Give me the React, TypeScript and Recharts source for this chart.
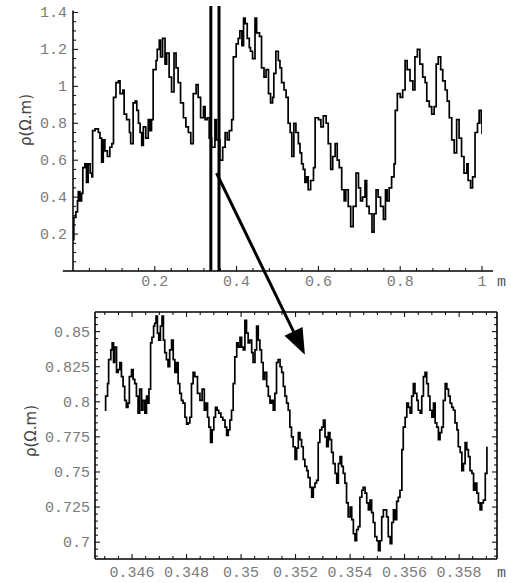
import React from 'react'
import { LineChart, Line, XAxis, YAxis, ReferenceLine } from 'recharts'

// full profile, x in m, rho in ohm.m
const topTrace: [number, number][] = [
  [0, 0.17], [0.002, 0.29], [0.007, 0.32], [0.011, 0.38], [0.013, 0.43], [0.017, 0.38], [0.021, 0.42],
  [0.024, 0.56], [0.029, 0.58], [0.033, 0.48], [0.037, 0.58], [0.042, 0.53], [0.046, 0.51], [0.048, 0.76],
  [0.054, 0.77], [0.062, 0.75], [0.066, 0.72], [0.07, 0.59], [0.074, 0.71], [0.078, 0.65], [0.084, 0.62],
  [0.09, 0.67], [0.095, 0.69], [0.099, 0.94], [0.105, 1.02], [0.111, 1.03], [0.115, 0.96], [0.122, 0.98],
  [0.125, 0.85], [0.131, 0.82], [0.138, 0.75], [0.141, 0.69], [0.147, 0.91], [0.152, 0.92], [0.156, 0.87],
  [0.16, 0.8], [0.164, 0.75], [0.168, 0.68], [0.172, 0.78], [0.178, 0.72], [0.184, 0.82], [0.188, 0.76],
  [0.192, 0.82], [0.196, 1.09], [0.203, 1.14], [0.206, 1.2], [0.211, 1.25], [0.214, 1.16], [0.219, 1.26],
  [0.225, 1.12], [0.229, 1.18], [0.235, 1.05], [0.241, 0.97], [0.247, 1.18], [0.252, 1.1], [0.257, 1.02],
  [0.263, 0.91], [0.27, 0.83], [0.276, 0.78], [0.282, 0.75], [0.288, 0.69], [0.294, 0.96], [0.301, 1.01],
  [0.306, 0.94], [0.312, 0.83], [0.319, 0.89], [0.323, 0.82], [0.328, 0.83], [0.333, 0.72], [0.339, 0.67],
  [0.347, 0.82], [0.351, 0.71], [0.359, 0.6], [0.366, 0.67], [0.372, 0.75], [0.377, 0.71], [0.382, 0.76],
  [0.388, 0.82], [0.392, 1.16], [0.399, 1.23], [0.404, 1.26], [0.408, 1.3], [0.413, 1.22], [0.417, 1.37],
  [0.421, 1.34], [0.426, 1.26], [0.431, 1.21], [0.434, 1.19], [0.439, 1.15], [0.445, 1.37], [0.449, 1.29],
  [0.456, 1.27], [0.461, 1.1], [0.467, 1.05], [0.472, 1.09], [0.478, 0.96], [0.483, 0.91], [0.488, 0.94],
  [0.491, 1.07], [0.496, 1.19], [0.502, 1.14], [0.506, 1.1], [0.51, 1.02], [0.516, 0.98], [0.521, 0.94],
  [0.526, 0.8], [0.531, 0.75], [0.535, 0.62], [0.54, 0.8], [0.545, 0.75], [0.551, 0.69], [0.555, 0.64],
  [0.559, 0.58], [0.563, 0.55], [0.567, 0.48], [0.571, 0.51], [0.575, 0.44], [0.581, 0.49], [0.588, 0.56],
  [0.592, 0.83], [0.6, 0.82], [0.606, 0.78], [0.612, 0.84], [0.619, 0.8], [0.624, 0.69], [0.63, 0.55],
  [0.635, 0.62], [0.641, 0.69], [0.646, 0.6], [0.651, 0.56], [0.657, 0.44], [0.663, 0.38], [0.667, 0.44],
  [0.673, 0.35], [0.679, 0.24], [0.685, 0.35], [0.692, 0.53], [0.698, 0.45], [0.703, 0.38], [0.708, 0.4],
  [0.714, 0.49], [0.718, 0.35], [0.724, 0.31], [0.731, 0.21], [0.736, 0.31], [0.741, 0.44], [0.746, 0.4],
  [0.752, 0.35], [0.759, 0.28], [0.764, 0.44], [0.768, 0.38], [0.773, 0.45], [0.779, 0.51], [0.785, 0.58],
  [0.788, 0.87], [0.793, 0.96], [0.8, 0.94], [0.806, 0.98], [0.812, 1.14], [0.817, 1.09], [0.824, 1.03],
  [0.831, 0.98], [0.836, 1.16], [0.842, 1.2], [0.848, 1.12], [0.855, 1.05], [0.861, 1.02], [0.865, 0.92],
  [0.871, 0.89], [0.877, 0.85], [0.883, 0.89], [0.888, 1.12], [0.893, 1.16], [0.899, 1.09], [0.904, 1.03],
  [0.91, 0.98], [0.915, 0.92], [0.92, 0.83], [0.926, 0.71], [0.932, 0.64], [0.938, 0.82], [0.944, 0.72],
  [0.95, 0.62], [0.956, 0.53], [0.963, 0.58], [0.966, 0.49], [0.972, 0.45], [0.977, 0.51], [0.983, 0.75],
  [0.989, 0.8], [0.993, 0.87], [0.998, 0.8], [1, 0.74],
]

// zoomed window 0.345 .. 0.359 m
const zoomTrace: [number, number][] = [
  [0.345, 0.794], [0.34503, 0.804], [0.3451, 0.813], [0.34514, 0.83], [0.34522, 0.837], [0.34527, 0.842],
  [0.34532, 0.828], [0.34536, 0.839], [0.34543, 0.821], [0.34549, 0.823], [0.34555, 0.828], [0.34561, 0.818],
  [0.34567, 0.811], [0.34573, 0.801], [0.34579, 0.796], [0.34585, 0.799], [0.3459, 0.818], [0.34598, 0.823],
  [0.34604, 0.816], [0.3461, 0.813], [0.34616, 0.804], [0.34622, 0.792], [0.34628, 0.809], [0.34635, 0.794],
  [0.3464, 0.801], [0.34647, 0.792], [0.34653, 0.804], [0.34659, 0.799], [0.34662, 0.809], [0.34668, 0.842],
  [0.34673, 0.846], [0.34679, 0.854], [0.34683, 0.856], [0.34688, 0.861], [0.34693, 0.849], [0.34698, 0.844],
  [0.34704, 0.854], [0.3471, 0.861], [0.34715, 0.844], [0.3472, 0.835], [0.34726, 0.83], [0.34732, 0.825],
  [0.34738, 0.837], [0.34745, 0.844], [0.34751, 0.83], [0.34757, 0.821], [0.34763, 0.828], [0.34769, 0.813],
  [0.34775, 0.806], [0.34781, 0.801], [0.34787, 0.799], [0.34794, 0.789], [0.348, 0.784], [0.34806, 0.785],
  [0.34812, 0.789], [0.34818, 0.813], [0.34824, 0.821], [0.3483, 0.818], [0.3484, 0.806], [0.34849, 0.801],
  [0.34857, 0.809], [0.34865, 0.794], [0.34871, 0.799], [0.34877, 0.789], [0.34882, 0.782], [0.34888, 0.771],
  [0.34894, 0.78], [0.349, 0.789], [0.34906, 0.796], [0.34912, 0.794], [0.34918, 0.792], [0.34926, 0.789],
  [0.34933, 0.787], [0.34941, 0.782], [0.34947, 0.776], [0.34953, 0.78], [0.34959, 0.787], [0.34965, 0.794],
  [0.34971, 0.813], [0.34977, 0.832], [0.34984, 0.842], [0.34989, 0.839], [0.34996, 0.846], [0.35002, 0.839],
  [0.35008, 0.837], [0.35014, 0.858], [0.3502, 0.849], [0.35026, 0.842], [0.35032, 0.844], [0.35039, 0.835],
  [0.35044, 0.828], [0.35051, 0.837], [0.35057, 0.854], [0.35063, 0.844], [0.35069, 0.837], [0.35075, 0.828],
  [0.35081, 0.816], [0.35087, 0.821], [0.35094, 0.811], [0.351, 0.804], [0.35106, 0.799], [0.35112, 0.801],
  [0.35118, 0.794], [0.35124, 0.806], [0.3513, 0.828], [0.35136, 0.83], [0.35143, 0.825], [0.35149, 0.821],
  [0.35155, 0.811], [0.35161, 0.804], [0.35167, 0.799], [0.35173, 0.794], [0.35179, 0.782], [0.35185, 0.775],
  [0.35191, 0.768], [0.35198, 0.759], [0.35204, 0.767], [0.3521, 0.778], [0.35216, 0.773], [0.35222, 0.768],
  [0.35228, 0.759], [0.35234, 0.754], [0.35241, 0.751], [0.35246, 0.746], [0.35253, 0.739], [0.35259, 0.732],
  [0.35265, 0.739], [0.35271, 0.742], [0.35277, 0.744], [0.35283, 0.771], [0.35289, 0.78], [0.35296, 0.782],
  [0.35302, 0.787], [0.35308, 0.775], [0.35314, 0.768], [0.3532, 0.778], [0.35326, 0.773], [0.35332, 0.764],
  [0.35338, 0.756], [0.35345, 0.749], [0.35351, 0.742], [0.35357, 0.756], [0.35363, 0.761], [0.35369, 0.754],
  [0.35375, 0.749], [0.35381, 0.742], [0.35387, 0.728], [0.35393, 0.718], [0.354, 0.725], [0.35406, 0.716],
  [0.35412, 0.706], [0.35418, 0.701], [0.35424, 0.709], [0.3543, 0.711], [0.35436, 0.732], [0.35443, 0.737],
  [0.35448, 0.739], [0.35455, 0.735], [0.35461, 0.728], [0.35467, 0.723], [0.35473, 0.73], [0.35479, 0.721],
  [0.35485, 0.714], [0.35491, 0.704], [0.35498, 0.701], [0.35504, 0.694], [0.3551, 0.701], [0.35516, 0.718],
  [0.35522, 0.723], [0.35528, 0.723], [0.35534, 0.718], [0.3554, 0.704], [0.35547, 0.699], [0.35553, 0.714],
  [0.35559, 0.723], [0.35565, 0.716], [0.35571, 0.729], [0.35577, 0.732], [0.35583, 0.737], [0.3559, 0.766],
  [0.35595, 0.782], [0.35602, 0.789], [0.35608, 0.799], [0.35614, 0.796], [0.3562, 0.792], [0.35626, 0.804],
  [0.35632, 0.813], [0.35638, 0.806], [0.35645, 0.801], [0.3565, 0.794], [0.35657, 0.792], [0.35663, 0.804],
  [0.35669, 0.818], [0.35675, 0.821], [0.35681, 0.813], [0.35687, 0.804], [0.35693, 0.794], [0.357, 0.789],
  [0.35706, 0.799], [0.35712, 0.785], [0.35718, 0.782], [0.35724, 0.773], [0.3573, 0.778], [0.35736, 0.782],
  [0.35742, 0.801], [0.35749, 0.813], [0.35755, 0.809], [0.35761, 0.804], [0.35767, 0.799], [0.35773, 0.796],
  [0.35779, 0.794], [0.35785, 0.785], [0.35792, 0.78], [0.35797, 0.768], [0.35804, 0.764], [0.3581, 0.751],
  [0.35816, 0.756], [0.35822, 0.771], [0.35828, 0.766], [0.35834, 0.761], [0.3584, 0.751], [0.35847, 0.749],
  [0.35853, 0.737], [0.35859, 0.742], [0.35865, 0.735], [0.35871, 0.728], [0.35877, 0.723], [0.35883, 0.728],
  [0.35889, 0.73], [0.35896, 0.749], [0.35902, 0.768],
]

const topXLabels = [0.2, 0.4, 0.6, 0.8, 1]
const topYLabels = [0.2, 0.4, 0.6, 0.8, 1, 1.2, 1.4]
const zoomXLabels = [0.346, 0.348, 0.35, 0.352, 0.354, 0.356, 0.358]
const zoomYLabels = [0.7, 0.725, 0.75, 0.775, 0.8, 0.825, 0.85]
const windowEdges = [0.337, 0.357]
// arrow from the picked point on the profile down into the zoom panel (top-chart coords)
const arrowEnds = [{ x: 0.351, y: 0.53 }, { x: 0.567, y: -0.454 }]

const topData = topTrace.map(([x, y]) => ({ x, y }))
const zoomData = zoomTrace.map(([x, y]) => ({ x, y }))

const steps = (from: number, to: number, step: number) => {
  const out: number[] = []
  for (let i = 0; from + i * step <= to + 1e-9; i++) out.push(+(from + i * step).toFixed(6))
  return out
}

const MONO = '"Liberation Mono", "DejaVu Sans Mono", monospace'
const LABEL = { fontFamily: MONO, fontSize: 15, fill: '#7a7a7a' }

type Side = 'left' | 'right' | 'top' | 'bottom'

const makeTick = (side: Side, labels: number[], gap: number, showText = true) => (props: any) => {
  const { x, y, payload } = props
  const v = payload.value
  const major = labels.some((l) => Math.abs(l - v) < 1e-7)
  const len = major ? 5 : 3
  let mark
  let text = null
  if (side === 'bottom') {
    mark = <line x1={x} y1={y} x2={x} y2={y - len} />
    if (major && showText) text = <text x={x} y={y + gap} textAnchor="middle" {...LABEL}>{String(v)}</text>
  } else if (side === 'top') {
    mark = <line x1={x} y1={y} x2={x} y2={y + len} />
  } else if (side === 'left') {
    mark = <line x1={x} y1={y} x2={x + len} y2={y} />
    if (major && showText) text = <text x={x - gap} y={y + 5} textAnchor="end" {...LABEL}>{String(v)}</text>
  } else {
    mark = <line x1={x} y1={y} x2={x - len} y2={y} />
  }
  return (
    <g stroke="#000" strokeWidth={1}>
      {mark}
      {text && <g stroke="none">{text}</g>}
    </g>
  )
}

const ArrowShape = (p: any) => {
  const { x1, y1, x2, y2 } = p
  const dx = x2 - x1
  const dy = y2 - y1
  const len = Math.hypot(dx, dy)
  const ux = dx / len
  const uy = dy / len
  const head = 26
  const half = 10
  const bx = x2 - ux * head
  const by = y2 - uy * head
  const pts = `${x2},${y2} ${bx - uy * half},${by + ux * half} ${bx + uy * half},${by - ux * half}`
  return (
    <g>
      <line x1={x1} y1={y1} x2={bx + ux * 4} y2={by + uy * 4} stroke="#000" strokeWidth={3} />
      <polygon points={pts} fill="#000" />
    </g>
  )
}

const frameLine = { stroke: '#000', strokeWidth: 1.6 }

export default function App() {
  return (
    <div style={{ position: 'relative', width: 511, height: 583, background: '#fff' }}>
      <style>{'body{margin:0} .recharts-surface{overflow:visible}'}</style>

      <div style={{ position: 'absolute', left: 0, top: 300 }}>
        <LineChart width={511} height={283} data={zoomData} margin={{ top: 11, right: 13, bottom: 0, left: 0 }}>
          <XAxis
            xAxisId="b"
            dataKey="x"
            type="number"
            domain={[0.34464, 0.35939]}
            allowDataOverflow
            ticks={steps(0.345, 0.359, 0.0005)}
            interval={0}
            tickSize={0}
            tickMargin={0}
            height={24}
            axisLine={frameLine}
            tick={makeTick('bottom', zoomXLabels, 18)}
          />
          <XAxis
            xAxisId="t"
            orientation="top"
            dataKey="x"
            type="number"
            domain={[0.34464, 0.35939]}
            allowDataOverflow
            ticks={steps(0.345, 0.359, 0.0005)}
            interval={0}
            tickSize={0}
            tickMargin={0}
            height={1}
            axisLine={frameLine}
            tick={makeTick('top', zoomXLabels, 0, false)}
          />
          <YAxis
            yAxisId="l"
            type="number"
            domain={[0.688, 0.864]}
            allowDataOverflow
            ticks={steps(0.69, 0.86, 0.005)}
            interval={0}
            tickSize={0}
            tickMargin={0}
            width={95}
            axisLine={frameLine}
            tick={makeTick('left', zoomYLabels, 5)}
          />
          <YAxis
            yAxisId="r"
            orientation="right"
            type="number"
            domain={[0.688, 0.864]}
            allowDataOverflow
            ticks={steps(0.69, 0.86, 0.005)}
            interval={0}
            tickSize={0}
            tickMargin={0}
            width={1}
            axisLine={frameLine}
            tick={makeTick('right', zoomYLabels, 0, false)}
          />
          <Line
            xAxisId="b"
            yAxisId="l"
            dataKey="y"
            type="stepAfter"
            stroke="#000"
            strokeWidth={1.7}
            dot={false}
            isAnimationActive={false}
          />
        </LineChart>
      </div>

      <div style={{ position: 'absolute', left: 0, top: 0 }}>
        <LineChart width={511} height={300} data={topData} margin={{ top: 6, right: 29, bottom: 0, left: 0 }}>
          <XAxis
            dataKey="x"
            type="number"
            domain={[0, 1]}
            allowDataOverflow
            ticks={steps(0.04, 1, 0.04)}
            interval={0}
            tickSize={0}
            tickMargin={0}
            height={29}
            axisLine={false}
            tick={makeTick('bottom', topXLabels, 15)}
          />
          <YAxis
            type="number"
            domain={[0, 1.435]}
            allowDataOverflow
            ticks={steps(0.05, 1.4, 0.05)}
            interval={0}
            tickSize={0}
            tickMargin={0}
            width={73}
            axisLine={false}
            tick={makeTick('left', topYLabels, 6)}
          />
          <ReferenceLine segment={[{ x: -0.025, y: 0 }, { x: 1.027, y: 0 }]} stroke="#000" strokeWidth={1.5} ifOverflow="visible" />
          <ReferenceLine segment={[{ x: 0, y: 0 }, { x: 0, y: 1.41 }]} stroke="#000" strokeWidth={1.5} ifOverflow="visible" />
          {windowEdges.map((e) => (
            <ReferenceLine key={e} x={e} stroke="#000" strokeWidth={3} />
          ))}
          <Line dataKey="y" type="stepAfter" stroke="#000" strokeWidth={1.7} dot={false} isAnimationActive={false} />
          <ReferenceLine segment={arrowEnds} ifOverflow="visible" shape={ArrowShape} />
        </LineChart>
      </div>

      <svg width={511} height={583} style={{ position: 'absolute', left: 0, top: 0, pointerEvents: 'none' }}>
        <g fontFamily='"DejaVu Sans", sans-serif' fontSize={15} fill="#444">
          <text x={26} y={120} transform="rotate(-90 26 120)" textAnchor="middle" dominantBaseline="central">
            ρ(Ω.m)
          </text>
          <text x={31} y={431} transform="rotate(-90 31 431)" textAnchor="middle" dominantBaseline="central">
            ρ(Ω.m)
          </text>
        </g>
        <g fontFamily={MONO} fontSize={15} fill="#555">
          <text x={497} y={286}>m</text>
          <text x={497} y={577}>m</text>
        </g>
      </svg>
    </div>
  )
}
